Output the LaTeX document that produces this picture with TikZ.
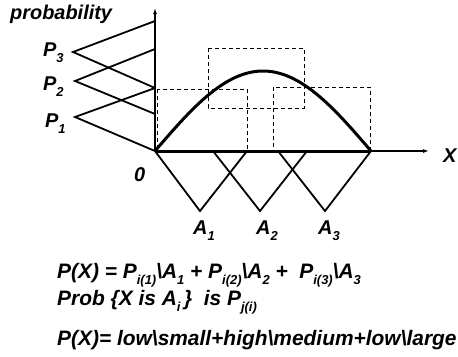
\documentclass[tikz,border=0pt]{standalone}
\usepackage{fontspec}
\setmainfont{Liberation Sans}
\usetikzlibrary{arrows.meta}
\newcommand{\lowsub}[1]{\raisebox{-0.6ex}{\fontsize{13}{13}\selectfont #1}}
\tikzset{
  lbl/.style={font=\fontsize{20}{22}\selectfont\bfseries\itshape, inner sep=0pt, anchor=base west},
  eqn/.style={lbl, font=\fontsize{21}{23}\selectfont\bfseries\itshape},
  axisline/.style={line width=1.2bp},
  tri/.style={line width=1.8bp},
  curve/.style={line width=3bp},
  box/.style={line width=0.9bp, dash pattern=on 4bp off 3bp}
}
\begin{document}
\begin{tikzpicture}[x=1bp,y=-1bp,>={Latex[length=6bp,width=4bp]}]
  \useasboundingbox (0,0) rectangle (458,356);
  \coordinate (O) at (155,151);
  \coordinate (ytop) at (155,8);
  \coordinate (xend) at (429,151);
  \coordinate (xr) at (371,151);
  % axes
  \draw[axisline,->] (O) -- (ytop);
  \draw[axisline,->] (O) -- (xend);
  \draw[curve] (O) -- (xr);
  % probability axis
  \coordinate (p21) at (155,21);
  \coordinate (p49) at (155,49);
  \coordinate (p88) at (155,88);
  \coordinate (p114) at (155,114);
  \coordinate (v1) at (75,117);
  \coordinate (v2) at (75,81);
  \coordinate (v3) at (73,52);
  \draw[tri] (p88) -- (v1) -- (O);
  \draw[tri] (p49) -- (v2) -- (p114);
  \draw[tri] (p21) -- (v3) -- (p88);
  \node[lbl] (prob) at (10,19) {probability};
  \node[lbl] (P3) at (43,56) {P\lowsub{3}};
  \node[lbl] (P2) at (43,90) {P\lowsub{2}};
  \node[lbl] (P1) at (45,127) {P\lowsub{1}};
  % fuzzy sets on X
  \foreach \s/\v/\e [count=\i] in {155/200/247, 213/260/307, 278/325/371}
    \draw[tri] (\s,151) -- (\v,211) coordinate (a\i) -- (\e,151);
  \node[lbl] (A1) at (193,234) {A\lowsub{1}};
  \node[lbl] (A2) at (256,234) {A\lowsub{2}};
  \node[lbl] (A3) at (318,234) {A\lowsub{3}};
  \node[lbl] (zero) at (134,181) {0};
  \node[lbl] (X) at (443,162) {X};
  % function and boxes
  \draw[curve] plot[domain=0:180,samples=60] ({155+1.2*\x},{151-80*sin(\x)});
  \draw[box] (157,89) rectangle (247,151);
  \draw[box] (208,48) rectangle (304,108);
  \draw[box] (273,87) rectangle (370,151);
  % formulas
  \node[eqn] (eq1) at (57,278) {P(X) = P\lowsub{i(1)}\textbackslash A\lowsub{1} + P\lowsub{i(2)}\textbackslash A\lowsub{2} +\ \ P\lowsub{i(3)}\textbackslash A\lowsub{3}};
  \node[eqn] (eq2) at (57,305) {Prob \{X is A\lowsub{i}\,\}\ \ is P\lowsub{j(i)}};
  \node[eqn] (eq3) at (57,345) {P(X)= low\textbackslash small+high\textbackslash medium+low\textbackslash large};
\end{tikzpicture}
\end{document}
